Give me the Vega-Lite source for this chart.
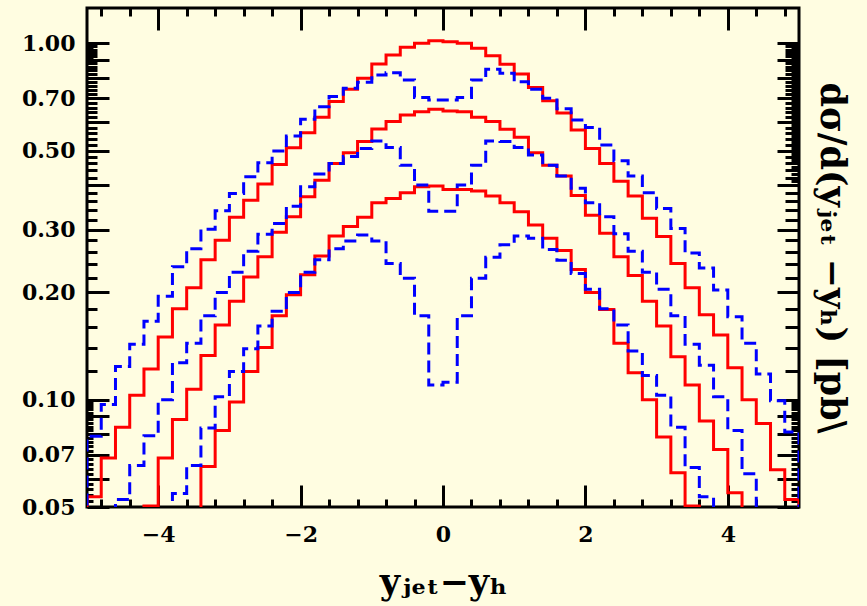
{
  "$schema": "https://vega.github.io/schema/vega-lite/v6.json",
  "width": 712,
  "height": 499,
  "autosize": {"type": "none"},
  "padding": {"left": 87, "top": 8, "right": 68, "bottom": 99},
  "background": "#fffde1",
  "config": {
    "view": {"stroke": "#000000", "strokeWidth": 3},
    "axis": {
      "domain": false, "grid": false, "tickColor": "#000000", "tickWidth": 3,
      "labelFont": "DejaVu Serif", "labelFontWeight": "bold", "labelFontSize": 22, "labelColor": "#000000",
      "titleFont": "DejaVu Serif", "titleFontWeight": "bold", "titleColor": "#000000",
      "labelOverlap": false, "labelFlush": false
    }
  },
  "data": {"values": [
    {"i":0,"x":-5.0,"R1":0.04,"R2":0.04,"R3":0.04,"B1":0.04,"B2":0.04,"B3":0.04},
    {"i":1,"x":-5.0,"R1":0.0534,"R2":0.04,"R3":0.04,"B1":0.079,"B2":0.04,"B3":0.04},
    {"i":2,"x":-4.8,"R1":0.0686,"R2":0.04,"R3":0.04,"B1":0.097,"B2":0.04,"B3":0.04},
    {"i":3,"x":-4.6,"R1":0.0837,"R2":0.04,"R3":0.04,"B1":0.124,"B2":0.0525,"B3":0.04},
    {"i":4,"x":-4.4,"R1":0.103,"R2":0.04,"R3":0.04,"B1":0.143,"B2":0.0654,"B3":0.04},
    {"i":5,"x":-4.2,"R1":0.122,"R2":0.0503,"R3":0.04,"B1":0.166,"B2":0.0792,"B3":0.04},
    {"i":6,"x":-4.0,"R1":0.150,"R2":0.0686,"R3":0.04,"B1":0.195,"B2":0.100,"B3":0.04},
    {"i":7,"x":-3.8,"R1":0.180,"R2":0.088,"R3":0.04,"B1":0.236,"B2":0.127,"B3":0.0546},
    {"i":8,"x":-3.6,"R1":0.206,"R2":0.107,"R3":0.04,"B1":0.265,"B2":0.144,"B3":0.0654},
    {"i":9,"x":-3.4,"R1":0.247,"R2":0.133,"R3":0.065,"B1":0.301,"B2":0.172,"B3":0.0833},
    {"i":10,"x":-3.2,"R1":0.280,"R2":0.162,"R3":0.082,"B1":0.339,"B2":0.200,"B3":0.102},
    {"i":11,"x":-3.0,"R1":0.325,"R2":0.189,"R3":0.0986,"B1":0.379,"B2":0.228,"B3":0.120},
    {"i":12,"x":-2.8,"R1":0.363,"R2":0.221,"R3":0.120,"B1":0.422,"B2":0.261,"B3":0.139},
    {"i":13,"x":-2.6,"R1":0.403,"R2":0.252,"R3":0.140,"B1":0.462,"B2":0.291,"B3":0.161},
    {"i":14,"x":-2.4,"R1":0.457,"R2":0.295,"R3":0.172,"B1":0.499,"B2":0.312,"B3":0.177},
    {"i":15,"x":-2.2,"R1":0.509,"R2":0.326,"R3":0.197,"B1":0.549,"B2":0.349,"B3":0.200},
    {"i":16,"x":-2.0,"R1":0.561,"R2":0.371,"R3":0.224,"B1":0.612,"B2":0.396,"B3":0.228},
    {"i":17,"x":-1.8,"R1":0.620,"R2":0.413,"R3":0.253,"B1":0.664,"B2":0.430,"B3":0.247},
    {"i":18,"x":-1.6,"R1":0.686,"R2":0.460,"R3":0.288,"B1":0.709,"B2":0.460,"B3":0.265},
    {"i":19,"x":-1.4,"R1":0.743,"R2":0.493,"R3":0.306,"B1":0.748,"B2":0.481,"B3":0.279},
    {"i":20,"x":-1.2,"R1":0.798,"R2":0.530,"R3":0.325,"B1":0.777,"B2":0.507,"B3":0.290},
    {"i":21,"x":-1.0,"R1":0.875,"R2":0.575,"R3":0.357,"B1":0.815,"B2":0.532,"B3":0.279},
    {"i":22,"x":-0.8,"R1":0.927,"R2":0.603,"R3":0.367,"B1":0.827,"B2":0.510,"B3":0.241},
    {"i":23,"x":-0.6,"R1":0.974,"R2":0.629,"R3":0.381,"B1":0.789,"B2":0.455,"B3":0.219},
    {"i":24,"x":-0.4,"R1":1.0,"R2":0.643,"R3":0.396,"B1":0.704,"B2":0.400,"B3":0.172},
    {"i":25,"x":-0.2,"R1":1.017,"R2":0.653,"R3":0.398,"B1":0.693,"B2":0.338,"B3":0.110},
    {"i":26,"x":0.0,"R1":1.01,"R2":0.646,"R3":0.389,"B1":0.693,"B2":0.338,"B3":0.112},
    {"i":27,"x":0.2,"R1":1.0,"R2":0.643,"R3":0.389,"B1":0.705,"B2":0.400,"B3":0.172},
    {"i":28,"x":0.4,"R1":0.968,"R2":0.620,"R3":0.385,"B1":0.789,"B2":0.455,"B3":0.219},
    {"i":29,"x":0.6,"R1":0.923,"R2":0.603,"R3":0.373,"B1":0.845,"B2":0.532,"B3":0.251},
    {"i":30,"x":0.8,"R1":0.873,"R2":0.574,"R3":0.357,"B1":0.824,"B2":0.530,"B3":0.272},
    {"i":31,"x":1.0,"R1":0.820,"R2":0.545,"R3":0.337,"B1":0.780,"B2":0.510,"B3":0.288},
    {"i":32,"x":1.2,"R1":0.752,"R2":0.493,"R3":0.309,"B1":0.743,"B2":0.486,"B3":0.284},
    {"i":33,"x":1.4,"R1":0.690,"R2":0.455,"R3":0.284,"B1":0.701,"B2":0.455,"B3":0.264},
    {"i":34,"x":1.6,"R1":0.637,"R2":0.424,"R3":0.262,"B1":0.655,"B2":0.424,"B3":0.246},
    {"i":35,"x":1.8,"R1":0.571,"R2":0.374,"R3":0.232,"B1":0.609,"B2":0.392,"B3":0.226},
    {"i":36,"x":2.0,"R1":0.507,"R2":0.329,"R3":0.200,"B1":0.580,"B2":0.357,"B3":0.204},
    {"i":37,"x":2.2,"R1":0.460,"R2":0.293,"R3":0.179,"B1":0.518,"B2":0.326,"B3":0.180},
    {"i":38,"x":2.4,"R1":0.410,"R2":0.252,"R3":0.144,"B1":0.468,"B2":0.292,"B3":0.162},
    {"i":39,"x":2.6,"R1":0.373,"R2":0.223,"R3":0.119,"B1":0.424,"B2":0.261,"B3":0.137},
    {"i":40,"x":2.8,"R1":0.323,"R2":0.189,"R3":0.100,"B1":0.381,"B2":0.228,"B3":0.117},
    {"i":41,"x":3.0,"R1":0.287,"R2":0.161,"R3":0.0786,"B1":0.344,"B2":0.204,"B3":0.103},
    {"i":42,"x":3.2,"R1":0.241,"R2":0.132,"R3":0.0624,"B1":0.302,"B2":0.172,"B3":0.0837},
    {"i":43,"x":3.4,"R1":0.206,"R2":0.110,"R3":0.0503,"B1":0.258,"B2":0.143,"B3":0.0645},
    {"i":44,"x":3.6,"R1":0.173,"R2":0.0872,"R3":0.04,"B1":0.234,"B2":0.125,"B3":0.0534},
    {"i":45,"x":3.8,"R1":0.152,"R2":0.0725,"R3":0.04,"B1":0.203,"B2":0.102,"B3":0.04},
    {"i":46,"x":4.0,"R1":0.123,"R2":0.0548,"R3":0.04,"B1":0.171,"B2":0.082,"B3":0.04},
    {"i":47,"x":4.2,"R1":0.100,"R2":0.04,"R3":0.04,"B1":0.144,"B2":0.0620,"B3":0.04},
    {"i":48,"x":4.4,"R1":0.0857,"R2":0.04,"R3":0.04,"B1":0.118,"B2":0.04,"B3":0.04},
    {"i":49,"x":4.6,"R1":0.0636,"R2":0.04,"R3":0.04,"B1":0.0994,"B2":0.04,"B3":0.04},
    {"i":50,"x":4.8,"R1":0.0525,"R2":0.04,"R3":0.04,"B1":0.0812,"B2":0.04,"B3":0.04},
    {"i":51,"x":5.0,"R1":0.0525,"R2":0.04,"R3":0.04,"B1":0.0812,"B2":0.04,"B3":0.04},
    {"i":52,"x":5.0,"R1":0.04,"R2":0.04,"R3":0.04,"B1":0.04,"B2":0.04,"B3":0.04}
  ]},
  "layer": [
    {
      "transform": [{"fold": ["R1", "R2", "R3"], "as": ["series", "v"]}],
      "mark": {"type": "line", "interpolate": "step-after", "color": "#ff0000", "strokeWidth": 3, "clip": true, "strokeCap": "butt", "strokeJoin": "miter"},
      "encoding": {
        "x": {"field": "x", "type": "quantitative",
          "scale": {"domain": [-5, 5], "nice": false, "zero": false},
          "axis": {"orient": "bottom",
            "values": [-4.8,-4.4,-4,-3.6,-3.2,-2.8,-2.4,-2,-1.6,-1.2,-0.8,-0.4,0,0.4,0.8,1.2,1.6,2,2.4,2.8,3.2,3.6,4,4.4,4.8],
            "tickSize": {"condition": {"test": "abs(datum.value) % 2 == 0", "value": -22}, "value": -8},
            "labelExpr": "datum.value % 2 == 0 ? (datum.value < 0 ? '\u2212' + abs(datum.value) : '' + datum.value) : ''",
            "labelPadding": 39,
            "title": "y\u2c7c\u2091\u209c\u2212y\u2095", "titleFontSize": 35, "titlePadding": 6}},
        "y": {"field": "v", "type": "quantitative",
          "scale": {"type": "log", "domain": [0.05, 1.256], "nice": false},
          "axis": {"orient": "left",
            "values": [0.05,0.06,0.07,0.08,0.09,0.1,0.2,0.3,0.4,0.5,0.6,0.7,0.8,0.9,1,
              0.12,0.14,0.16,0.18,0.22,0.24,0.26,0.28,0.32,0.34,0.36,0.38,0.42,0.44,0.46,0.48,0.52,0.54,0.56,0.58,0.62,0.64,0.66,0.68,0.72,0.74,0.76,0.78,0.82,0.84,0.86,0.88,0.92,0.94,0.96,0.98,
              0.052,0.054,0.056,0.058,0.062,0.064,0.066,0.068,0.072,0.074,0.076,0.078,0.082,0.084,0.086,0.088,0.092,0.094,0.096,0.098,0.91,0.93,0.95,0.97,0.99],
            "tickSize": {"condition": [
              {"test": "indexof([0.05,0.06,0.07,0.08,0.09,0.1,0.2,0.3,0.4,0.5,0.6,0.7,0.8,0.9,1], datum.value) >= 0", "value": -22},
              {"test": "datum.value > 0.11 && abs(datum.value*50 - round(datum.value*50)) < 0.001", "value": -10}], "value": -6},
            "labelExpr": "indexof([1,0.7,0.5,0.3,0.2,0.1,0.07,0.05], datum.value) >= 0 ? format(datum.value, '.2f') : ''",
            "labelPadding": 34,
            "title": null}},
        "detail": {"field": "series"},
        "order": {"field": "i"}
      }
    },
    {
      "transform": [{"fold": ["B1", "B2", "B3"], "as": ["series", "v"]}],
      "mark": {"type": "line", "interpolate": "step-after", "color": "#0000ff", "strokeWidth": 3, "clip": true, "strokeDash": [12, 6], "strokeCap": "butt", "strokeJoin": "miter"},
      "encoding": {
        "x": {"field": "x", "type": "quantitative",
          "scale": {"domain": [-5, 5], "nice": false, "zero": false},
          "axis": {"orient": "top",
            "values": [-4.8,-4.4,-4,-3.6,-3.2,-2.8,-2.4,-2,-1.6,-1.2,-0.8,-0.4,0,0.4,0.8,1.2,1.6,2,2.4,2.8,3.2,3.6,4,4.4,4.8],
            "tickSize": {"condition": {"test": "abs(datum.value) % 2 == 0", "value": -22}, "value": -8},
            "labels": false, "title": null}},
        "y": {"field": "v", "type": "quantitative",
          "scale": {"type": "log", "domain": [0.05, 1.256], "nice": false},
          "axis": {"orient": "right",
            "values": [0.05,0.06,0.07,0.08,0.09,0.1,0.2,0.3,0.4,0.5,0.6,0.7,0.8,0.9,1,
              0.12,0.14,0.16,0.18,0.22,0.24,0.26,0.28,0.32,0.34,0.36,0.38,0.42,0.44,0.46,0.48,0.52,0.54,0.56,0.58,0.62,0.64,0.66,0.68,0.72,0.74,0.76,0.78,0.82,0.84,0.86,0.88,0.92,0.94,0.96,0.98,
              0.052,0.054,0.056,0.058,0.062,0.064,0.066,0.068,0.072,0.074,0.076,0.078,0.082,0.084,0.086,0.088,0.092,0.094,0.096,0.098,
              0.41,0.43,0.45,0.47,0.49,0.51,0.53,0.55,0.57,0.59,0.61,0.63,0.65,0.67,0.69,0.71,0.73,0.75,0.77,0.79,0.81,0.83,0.85,0.87,0.89,0.91,0.93,0.95,0.97,0.99],
            "tickSize": {"condition": [
              {"test": "indexof([0.05,0.06,0.07,0.08,0.09,0.1,0.2,0.3,0.4,0.5,0.6,0.7,0.8,0.9,1], datum.value) >= 0", "value": -22},
              {"test": "datum.value > 0.11 && abs(datum.value*50 - round(datum.value*50)) < 0.001", "value": -14}], "value": -8},
            "labels": false,
            "title": "d\u03c3/d(y\u2c7c\u2091\u209c \u2212y\u2095)  [pb\\", "titleFontSize": 35, "titlePadding": 13}},
        "detail": {"field": "series"},
        "order": {"field": "i"}
      }
    }
  ],
  "resolve": {"axis": {"x": "independent", "y": "independent"}}
}
